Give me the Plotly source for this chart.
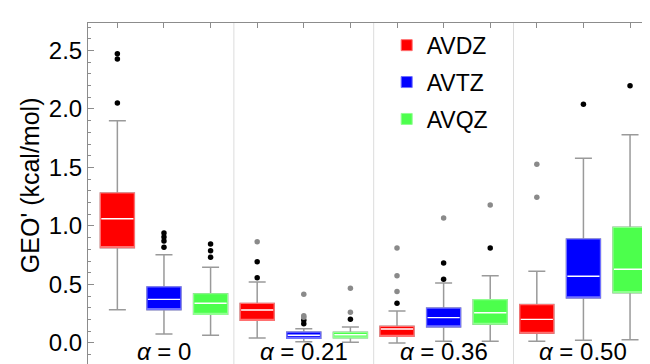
import plotly.graph_objects as go

# ---------------- data ----------------
group_labels = ["<i>α</i> = 0", "<i>α</i> = 0.21", "<i>α</i> = 0.36", "<i>α</i> = 0.50"]
series_names = ["AVDZ", "AVTZ", "AVQZ"]
y_title = "GEO' (kcal/mol)"

avdz_low = [0.285, 0.043, 0.000, 0.014]
avdz_q1 = [0.815, 0.194, 0.057, 0.083]
avdz_med = [1.062, 0.282, 0.120, 0.202]
avdz_q3 = [1.282, 0.338, 0.142, 0.328]
avdz_high = [1.900, 0.522, 0.274, 0.613]
avdz_out_near = [[2.473, 2.427, 2.051], [0.695, 0.558], [0.339], []]
avdz_out_far = [[], [0.866], [0.812, 0.575, 0.439], [1.527, 1.245]]

avtz_low = [0.077, 0.011, 0.014, 0.023]
avtz_q1 = [0.285, 0.040, 0.137, 0.385]
avtz_med = [0.373, 0.066, 0.217, 0.570]
avtz_q3 = [0.479, 0.093, 0.298, 0.889]
avtz_high = [0.755, 0.121, 0.513, 1.579]
avtz_out_near = [[0.940, 0.906, 0.872, 0.818], [0.194, 0.165], [0.684, 0.544], [2.040]]
avtz_out_far = [[], [0.416, 0.233, 0.220], [1.068], []]

avqz_low = [0.066, 0.006, 0.014, 0.028]
avqz_q1 = [0.245, 0.044, 0.160, 0.430]
avqz_med = [0.339, 0.070, 0.259, 0.630]
avqz_q3 = [0.421, 0.091, 0.370, 0.989]
avqz_high = [0.647, 0.137, 0.575, 1.780]
avqz_out_near = [[0.846, 0.789, 0.732], [0.202], [0.812], [2.199]]
avqz_out_far = [[], [0.467, 0.262], [1.179], []]

y_ticks = [0.0, 0.5, 1.0, 1.5, 2.0, 2.5]

# ---------------- style ----------------
fills = ["#ff0000", "#0000ff", "#4cff4c"]
edges = ["#ff7070", "#7070ff", "#90ff90"]
whisker_col = "#9a9a9a"
frame_col = "#8c8c8c"
FONT = "Liberation Sans, Arial, sans-serif"

stats = [
    (avdz_low, avdz_q1, avdz_med, avdz_q3, avdz_high, avdz_out_near, avdz_out_far),
    (avtz_low, avtz_q1, avtz_med, avtz_q3, avtz_high, avtz_out_near, avtz_out_far),
    (avqz_low, avqz_q1, avqz_med, avqz_q3, avqz_high, avqz_out_near, avqz_out_far),
]

n_groups = len(group_labels)
n_series = len(series_names)
BOXW = 0.73
Y_RANGE = [-0.248, 2.735]

fig = go.Figure()

for s, (lo, q1, md, q3, hi, near, far) in enumerate(stats):
    xs = [g * n_series + s + 1 for g in range(n_groups)]
    # whiskers layer
    fig.add_trace(go.Box(
        x=xs, q1=q1, median=md, q3=q3, lowerfence=lo, upperfence=hi,
        width=BOXW, whiskerwidth=0.5, fillcolor="rgba(0,0,0,0)",
        line=dict(color=whisker_col, width=1.5), showlegend=False,
        hoverinfo="skip", boxpoints=False))
    # coloured body
    fig.add_trace(go.Box(
        x=xs, q1=q1, median=q1, q3=q3, lowerfence=q1, upperfence=q3,
        width=BOXW, whiskerwidth=0, fillcolor=fills[s],
        line=dict(color=edges[s], width=1.2), showlegend=False,
        hoverinfo="skip", boxpoints=False))
    # white median
    fig.add_trace(go.Box(
        x=xs, q1=md, median=md, q3=md, lowerfence=md, upperfence=md,
        width=BOXW - 0.04, whiskerwidth=0, fillcolor="rgba(0,0,0,0)",
        line=dict(color="white", width=1.4), showlegend=False,
        hoverinfo="skip", boxpoints=False))
    # outliers
    nx, ny, fx, fy = [], [], [], []
    for g in range(n_groups):
        for v in near[g]:
            nx.append(xs[g]); ny.append(v)
        for v in far[g]:
            fx.append(xs[g]); fy.append(v)
    fig.add_trace(go.Scatter(x=nx, y=ny, mode="markers",
                             marker=dict(color="black", size=5.5),
                             showlegend=False, hoverinfo="skip"))
    fig.add_trace(go.Scatter(x=fx, y=fy, mode="markers",
                             marker=dict(color="#8a8a8a", size=5.5),
                             showlegend=False, hoverinfo="skip"))
    # legend entry
    fig.add_trace(go.Scatter(x=[None], y=[None], mode="markers", name=series_names[s],
                             legendgroup=series_names[s],
                             marker=dict(symbol="square", size=11, color=fills[s],
                                         line=dict(color=edges[s], width=1))))

# group separators & labels
for g in range(n_groups):
    center = g * n_series + (n_series + 1) / 2
    fig.add_annotation(x=center, y=Y_RANGE[0] + 0.04, text=group_labels[g], showarrow=False,
                       font=dict(size=24, color="black", family=FONT),
                       xanchor="center", yanchor="bottom")
    if g > 0:
        sep = g * n_series + 0.5
        fig.add_shape(type="line", x0=sep, x1=sep, y0=0, y1=1, xref="x", yref="paper",
                      line=dict(color="#dcdcdc", width=1), layer="below")

# y-axis title
fig.add_annotation(x=-0.102, y=0.535, xref="paper", yref="paper", text=y_title,
                   textangle=-90, showarrow=False, xanchor="center", yanchor="middle",
                   font=dict(size=25, color="black", family=FONT))

fig.update_layout(
    width=650, height=364,
    margin=dict(l=80, r=0, t=15, b=0),
    paper_bgcolor="white", plot_bgcolor="white",
    font=dict(family=FONT, color="black"),
    boxmode="overlay",
    legend=dict(x=0.524, y=0.998, xanchor="left", yanchor="top",
                font=dict(size=23, family=FONT, color="black"),
                bgcolor="rgba(0,0,0,0)", tracegroupgap=4, itemwidth=30),
    xaxis=dict(range=[0.37, 12.60], tickvals=list(range(1, n_groups * n_series + 1)),
               showticklabels=False, ticks="inside", ticklen=5, tickcolor=frame_col,
               showline=True, linecolor=frame_col, linewidth=1, mirror="ticks",
               showgrid=False, zeroline=False),
    yaxis=dict(range=Y_RANGE, tickvals=y_ticks,
               ticktext=[f"{v:.1f}" for v in y_ticks],
               ticks="inside", ticklen=6, tickcolor=frame_col,
               minor=dict(dtick=0.1, ticks="inside", ticklen=3, tickcolor=frame_col, showgrid=False),
               showline=True, linecolor=frame_col, linewidth=1, mirror="ticks",
               showgrid=False, zeroline=False,
               tickfont=dict(size=24, color="black", family=FONT)),
)

fig.write_html("out.html")
